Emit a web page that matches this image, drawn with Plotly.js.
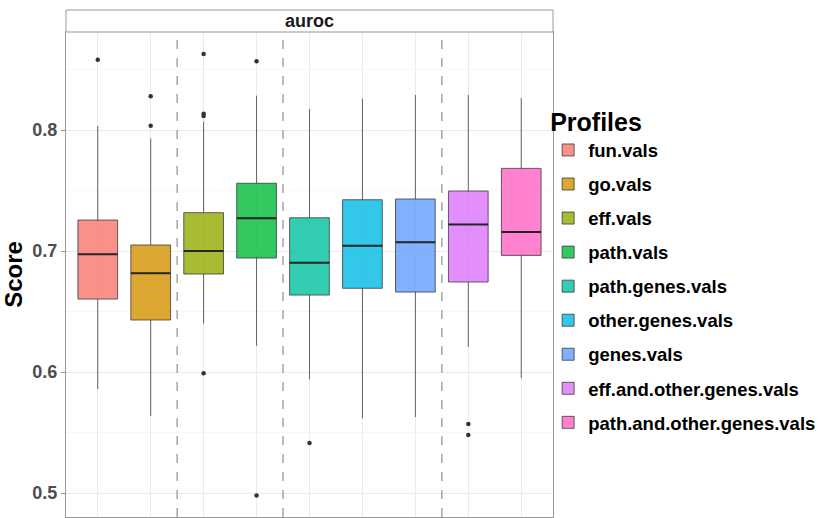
<!DOCTYPE html>
<html>
<head>
<meta charset="utf-8">
<script src="https://cdn.plot.ly/plotly-3.0.1.min.js"></script>
<style>html,body{margin:0;padding:0;background:#fff}#chart{width:827px;height:518px}</style>
</head>
<body>
<div id="chart"></div>
<script>
const profiles = ["fun.vals","go.vals","eff.vals","path.vals","path.genes.vals","other.genes.vals","genes.vals","eff.and.other.genes.vals","path.and.other.genes.vals"];
const colors = ["#F8766D","#D39200","#93AA00","#00BA38","#00C19F","#00B9E3","#619CFF","#DB72FB","#FF61C3"];
const lowerWhisker = [0.586,0.5636,0.640,0.6217,0.594,0.5617,0.5628,0.6207,0.595];
const q1Vals       = [0.6603,0.643,0.681,0.6942,0.6636,0.6692,0.6661,0.6744,0.6964];
const medianVals   = [0.6973,0.6816,0.700,0.727,0.6904,0.7044,0.7072,0.722,0.7157];
const q3Vals       = [0.7256,0.705,0.7317,0.756,0.7275,0.7424,0.743,0.7496,0.7683];
const upperWhisker = [0.8033,0.793,0.807,0.8284,0.8174,0.826,0.829,0.829,0.8264];
const outliers = [[0.858],[0.8036,0.828],[0.8628,0.8135,0.8116,0.599],[0.8568,0.498],[0.5413],[],[],[0.557,0.548],[]];
const separators = [1.5,3.5,6.5];
const facetLabel = "auroc";
const yTicks = [0.5,0.6,0.7,0.8];

function hexA(h,a){const n=parseInt(h.slice(1),16);return `rgba(${n>>16&255},${n>>8&255},${n&255},${a})`;}

const traces = [];
const boxW = 0.75;
profiles.forEach((p,i)=>{
  traces.push({
    type:'box', name:p, x:[i], q1:[q1Vals[i]], median:[medianVals[i]], q3:[q3Vals[i]],
    lowerfence:[lowerWhisker[i]], upperfence:[upperWhisker[i]],
    width:boxW, whiskerwidth:0, boxpoints:false,
    fillcolor:hexA(colors[i],0.8), line:{color:'rgba(51,51,51,0.75)',width:1},
    legendgroup:'g'+i, hoverinfo:'skip'
  });
});
profiles.forEach((p,i)=>{
  traces.push({type:'scatter',mode:'lines',x:[i-boxW/2,i+boxW/2],y:[medianVals[i],medianVals[i]],
    line:{color:'#262626',width:2},showlegend:false,hoverinfo:'skip',legendgroup:'g'+i});
  if(outliers[i].length){
    traces.push({type:'scatter',mode:'markers',x:outliers[i].map(()=>i),y:outliers[i],
      marker:{color:'#333333',size:4.5},showlegend:false,hoverinfo:'skip',legendgroup:'g'+i});
  }
});

const shapes = separators.map(s=>({type:'line',xref:'x',yref:'paper',x0:s,x1:s,y0:0,y1:1,
  line:{color:'#a6a6a6',width:1.5,dash:'dash'},layer:'above'}));
shapes.push({type:'rect',xref:'paper',yref:'paper',x0:0,x1:1,y0:1,y1:1+22/485,
  line:{color:'#999999',width:1},fillcolor:'#ffffff'});

const layout = {
  width:827,height:518,
  margin:{l:66,r:274,t:32,b:1},
  paper_bgcolor:'#fff',plot_bgcolor:'#fff',
  font:{family:'Liberation Sans, Arial, sans-serif'},
  showlegend:true,
  legend:{x:0.99,xanchor:'left',y:0.862,yanchor:'top',bgcolor:'rgba(0,0,0,0)',
    title:{text:'<b>Profiles</b>',font:{size:25,color:'#000'}},
    font:{size:18.5,color:'#000',weight:'bold'},tracegroupgap:7,itemwidth:30},
  xaxis:{range:[-0.6,8.6],tickvals:profiles.map((_,i)=>i),ticktext:profiles.map(()=>''),
    ticks:'outside',ticklen:4,tickcolor:'#999',showgrid:true,gridcolor:'#ebebeb',gridwidth:1,
    zeroline:false,showline:true,mirror:true,linecolor:'#999',linewidth:1,fixedrange:true},
  yaxis:{range:[0.4802,0.881],tickvals:yTicks,ticktext:yTicks.map(v=>v.toFixed(1)),
    ticks:'outside',ticklen:4,tickcolor:'#999',
    tickfont:{size:18,color:'#4d4d4d',weight:'bold'},
    showgrid:true,gridcolor:'#ebebeb',gridwidth:1,
    minor:{tickvals:[0.55,0.65,0.75,0.85],showgrid:true,gridcolor:'#f5f5f5',gridwidth:0.8,ticks:''},
    zeroline:false,showline:true,mirror:true,linecolor:'#999',linewidth:1,
    title:{text:'<b>Score</b>',font:{size:24,color:'#000'},standoff:4},fixedrange:true},
  shapes:shapes,
  annotations:[{text:'<b>'+facetLabel+'</b>',xref:'paper',yref:'paper',x:0.5,y:1+11/485,
    xanchor:'center',yanchor:'middle',showarrow:false,font:{size:18,color:'#1a1a1a'}}]
};
Plotly.newPlot('chart',traces,layout,{displayModeBar:false,staticPlot:true});
</script>
</body>
</html>
